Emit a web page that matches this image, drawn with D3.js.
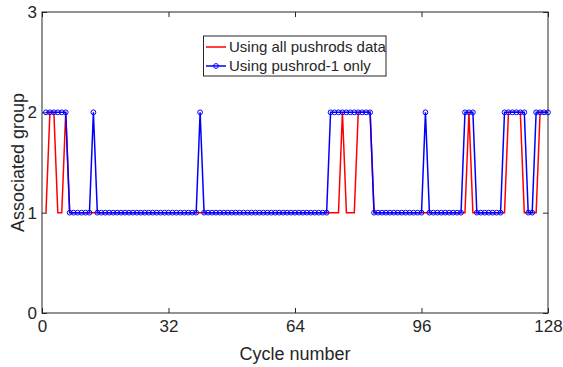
<!DOCTYPE html>
<html>
<head>
<meta charset="utf-8">
<script src="https://cdn.jsdelivr.net/npm/d3@7"></script>
<style>
  body { margin: 0; background: #fff; }
  text { font-family: "Liberation Sans", Arial, sans-serif; fill: #262626; }
</style>
</head>
<body>
<div id="chart"></div>
<script>
// group assigned to each cycle (cycle 1..128)
var allPushrods = [
    1,2,2,1,1,2,1,1,1,1,1,1,1,1,1,1,
    1,1,1,1,1,1,1,1,1,1,1,1,1,1,1,1,
    1,1,1,1,1,1,1,1,1,1,1,1,1,1,1,1,
    1,1,1,1,1,1,1,1,1,1,1,1,1,1,1,1,
    1,1,1,1,1,1,1,1,1,1,1,2,1,1,1,2,
    2,2,2,1,1,1,1,1,1,1,1,1,1,1,1,1,
    1,1,1,1,1,1,1,1,1,1,1,2,1,1,1,1,
    1,1,1,1,1,2,2,2,2,1,1,1,1,2,2,2
];
var pushrodOne = [
    2,2,2,2,2,2,1,1,1,1,1,1,2,1,1,1,
    1,1,1,1,1,1,1,1,1,1,1,1,1,1,1,1,
    1,1,1,1,1,1,1,2,1,1,1,1,1,1,1,1,
    1,1,1,1,1,1,1,1,1,1,1,1,1,1,1,1,
    1,1,1,1,1,1,1,1,2,2,2,2,2,2,2,2,
    2,2,2,1,1,1,1,1,1,1,1,1,1,1,1,1,
    2,1,1,1,1,1,1,1,1,1,2,2,2,1,1,1,
    1,1,1,1,2,2,2,2,2,2,1,1,2,2,2,2
];
var cycles = d3.range(1, 129);
var xTicks = [0, 32, 64, 96, 128];
var yTicks = [0, 1, 2, 3];
var seriesNames = ["Using all pushrods data", "Using pushrod-1 only"];

var width = 563, height = 367;
var plotLeft = 42, plotRight = 548, plotTop = 12, plotBottom = 313;

var svg = d3.select("#chart").append("svg")
    .attr("width", width)
    .attr("height", height);

svg.append("rect").attr("width", width).attr("height", height).attr("fill", "#fff");

var x = d3.scaleLinear().domain([0, 128]).range([plotLeft, plotRight]);
var y = d3.scaleLinear().domain([0, 3]).range([plotBottom, plotTop]);

// axes, ticks inside like matlab
var tickLen = 5;
function styleAxis(g) {
    g.select(".domain").remove();
    g.selectAll(".tick line").attr("stroke", "#262626");
}

svg.append("g")
    .attr("transform", "translate(0," + plotBottom + ")")
    .call(d3.axisBottom(x).tickValues(xTicks).tickSize(-tickLen).tickPadding(7).tickFormat(d3.format("d")))
    .call(styleAxis)
    .selectAll("text").attr("font-size", 17).attr("fill", "#262626");

svg.append("g")
    .attr("transform", "translate(0," + plotTop + ")")
    .call(d3.axisTop(x).tickValues(xTicks).tickSize(-tickLen).tickFormat(""))
    .call(styleAxis);

svg.append("g")
    .attr("transform", "translate(" + plotLeft + ",0)")
    .call(d3.axisLeft(y).tickValues(yTicks).tickSize(-tickLen).tickPadding(5).tickFormat(d3.format("d")))
    .call(styleAxis)
    .selectAll("text").attr("font-size", 17).attr("fill", "#262626");

svg.append("g")
    .attr("transform", "translate(" + plotRight + ",0)")
    .call(d3.axisRight(y).tickValues(yTicks).tickSize(-tickLen).tickFormat(""))
    .call(styleAxis);

svg.append("rect")
    .attr("x", plotLeft).attr("y", plotTop)
    .attr("width", plotRight - plotLeft).attr("height", plotBottom - plotTop)
    .attr("fill", "none")
    .attr("stroke", "#262626")
    .attr("stroke-width", 1);

// lines
var line = d3.line()
    .x(function(d) { return x(d[0]); })
    .y(function(d) { return y(d[1]); });

var redData = cycles.map(function(c, i) { return [c, allPushrods[i]]; });
var blueData = cycles.map(function(c, i) { return [c, pushrodOne[i]]; });

svg.append("path")
    .datum(redData)
    .attr("d", line)
    .attr("fill", "none")
    .attr("stroke", "#ff0000")
    .attr("stroke-width", 1.5);

svg.append("path")
    .datum(blueData)
    .attr("d", line)
    .attr("fill", "none")
    .attr("stroke", "#0000ff")
    .attr("stroke-width", 1.5);

svg.selectAll("circle.marker")
    .data(blueData)
    .enter()
    .append("circle")
    .attr("class", "marker")
    .attr("cx", function(d) { return x(d[0]); })
    .attr("cy", function(d) { return y(d[1]); })
    .attr("r", 2.4)
    .attr("fill", "none")
    .attr("stroke", "#0000ff")
    .attr("stroke-width", 1);

// axis labels
svg.append("text")
    .attr("x", (plotLeft + plotRight) / 2)
    .attr("y", 360)
    .attr("text-anchor", "middle")
    .attr("font-size", 18)
    .text("Cycle number");

svg.append("text")
    .attr("transform", "translate(24," + ((plotTop + plotBottom) / 2) + ") rotate(-90)")
    .attr("text-anchor", "middle")
    .attr("font-size", 18)
    .text("Associated group");

// legend
var legend = svg.append("g");
legend.append("rect")
    .attr("x", 203.5).attr("y", 36)
    .attr("width", 182.5).attr("height", 40)
    .attr("fill", "#fff")
    .attr("stroke", "#262626")
    .attr("stroke-width", 1);

var colors = ["#ff0000", "#0000ff"];
seriesNames.forEach(function(name, i) {
    var ly = 47 + i * 19;
    legend.append("line")
        .attr("x1", 206).attr("x2", 226)
        .attr("y1", ly).attr("y2", ly)
        .attr("stroke", colors[i])
        .attr("stroke-width", 1.5);
    if (i === 1) {
        legend.append("circle")
            .attr("cx", 216).attr("cy", ly).attr("r", 2.4)
            .attr("fill", "none").attr("stroke", colors[i]);
    }
    legend.append("text")
        .attr("x", 229)
        .attr("y", ly + 5)
        .attr("font-size", 15)
        .attr("fill", "#000")
        .text(name);
});
</script>
</body>
</html>
